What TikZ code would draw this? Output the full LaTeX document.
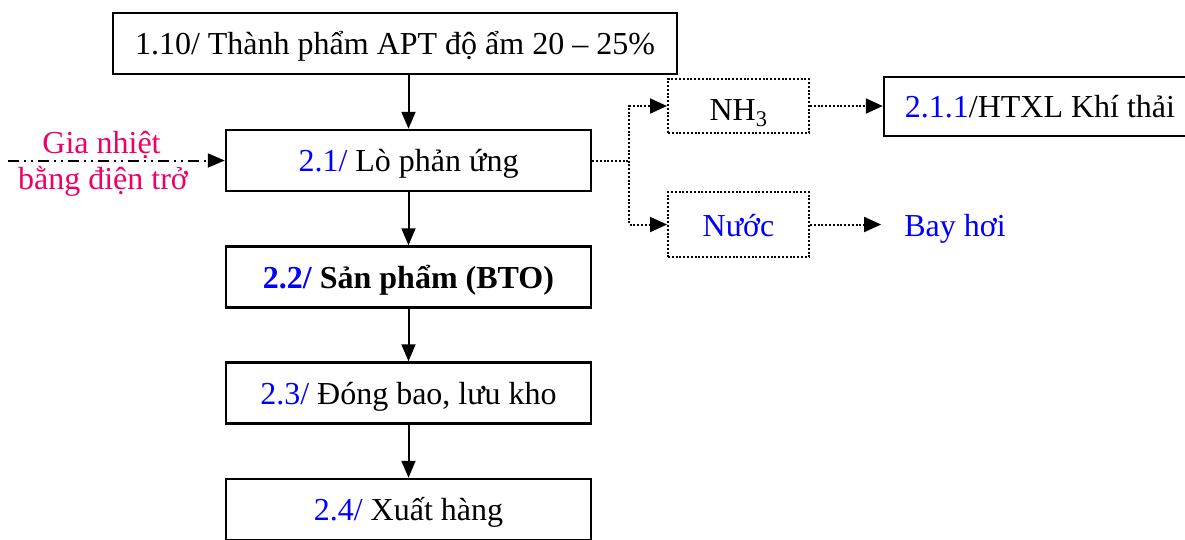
\documentclass[tikz,border=0pt]{standalone}
\usepackage{fontspec}
\setmainfont{Liberation Serif}
\usetikzlibrary{arrows.meta}
\definecolor{numblue}{RGB}{0,0,255}
\definecolor{heatpink}{RGB}{240,0,100}

\begin{document}
\begin{tikzpicture}[x=1pt,y=-1pt,
  font=\fontsize{32}{36}\selectfont,
  procbox/.style={draw, line width=2.5pt, inner sep=0pt, minimum height=61pt,
    minimum width=365pt, text height=26pt, text depth=4pt},
  sidebox/.style={draw, line width=2pt, dash pattern=on 2pt off 1.8pt,
    inner sep=0pt, minimum width=141pt},
  flow/.style={line width=2pt, -{Triangle[length=17pt,width=14pt]}},
  dotflow/.style={line width=2pt, dash pattern=on 2pt off 1.8pt,
    -{Triangle[length=17pt,width=15pt]}},
  heatline/.style={line width=2pt,
    dash pattern=on 11pt off 5pt on 2pt off 5pt on 2pt off 5pt,
    -{Triangle[length=17pt,width=14pt]}},
  heattext/.style={text=heatpink, inner sep=0pt, anchor=base},
]
\clip (0,0) rectangle (1185,539);

% main process chain
\node[procbox, minimum width=564pt] (b110) at (395,43.5)
  {1.10/ Thành phẩm APT độ ẩm 20 – 25\%};
\node[procbox] (b21) at (408.5,160.5) {\textcolor{numblue}{2.1/} Lò phản ứng};
\node[procbox] (b22) at (408.5,277)
  {\bfseries\textcolor{numblue}{2.2/} Sản phẩm (BTO)};
\node[procbox] (b23) at (408.5,393) {\textcolor{numblue}{2.3/} Đóng bao, lưu kho};
\node[procbox] (b24) at (408.5,509.5) {\textcolor{numblue}{2.4/} Xuất hàng};

\draw[flow] (b21.north |- b110.south) -- (b21.north);
\draw[flow] (b21.south) -- (b22.north);
\draw[flow] (b22.south) -- (b23.north);
\draw[flow] (b23.south) -- (b24.north);

% heating input
\coordinate (heatin) at (8,160.5);
\draw[heatline] (heatin) -- (b21.west);
\node[heattext] (heatA) at (101.5,153) {Gia nhiệt};
\node[heattext] (heatB) at (103,189) {bằng điện trở};

% by-products of the reactor
\node[sidebox, minimum height=54pt, text height=30pt, text depth=2pt] (nh3)
  at (738.5,106) {NH\textsubscript{3}};
\node[sidebox, minimum height=65pt, text height=28pt, text depth=4pt,
  text=numblue] (nuoc) at (738.5,224.5) {Nước};
\node[procbox, minimum width=312pt, minimum height=59pt] (htxl) at (1040,106.5)
  {\textcolor{numblue}{2.1.1}/HTXL Khí thải};
\node[text=numblue, inner ysep=0pt, inner xsep=23pt, text height=28pt,
  text depth=4pt] (bayhoi) at (955,224.5) {Bay hơi};

\coordinate (split) at (629,160.5);
\draw[dotflow] (b21.east) -- (split) |- (nh3.west);
\draw[dotflow] (split) |- (nuoc.west);
\draw[dotflow] (nh3.east) -- (htxl.west |- nh3.east);
\draw[dotflow] (nuoc.east) -- (bayhoi.west);
\end{tikzpicture}
\end{document}
